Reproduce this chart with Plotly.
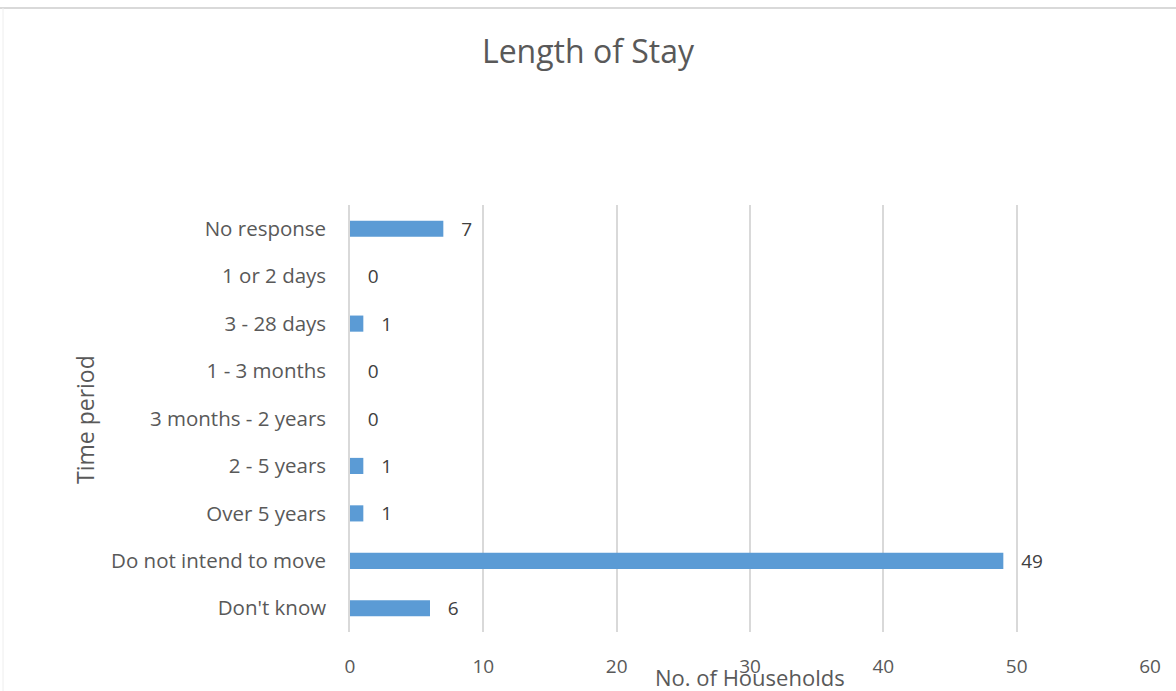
import plotly.graph_objects as go

categories = ["No response", "1 or 2 days", "3 - 28 days", "1 - 3 months",
              "3 months - 2 years", "2 - 5 years", "Over 5 years",
              "Do not intend to move", "Don't know"]
households = [7, 0, 1, 0, 0, 1, 1, 49, 6]
x_ticks = [0, 10, 20, 30, 40, 50, 60]

FONT = "Open Sans"
W, H = 1176, 691
L, R, T, B = 350, 26, 205, 59
PW, PH = W - L - R, H - T - B


def px_x(x):
    return (x - L) / PW


def px_y(y):
    return (H - B - y) / PH


fig = go.Figure()
fig.add_trace(go.Bar(
    x=households, y=categories, orientation="h",
    marker=dict(color="#5B9BD5", line=dict(width=0)),
    text=[str(v) for v in households],
    texttemplate="   %{text}",
    textposition="outside",
    constraintext="none",
    textfont=dict(family=FONT, size=19, color="#404040"),
    cliponaxis=False,
    hoverinfo="skip",
))

fig.update_layout(
    width=W, height=H,
    paper_bgcolor="white", plot_bgcolor="white",
    margin=dict(l=L, r=R, t=T, b=B),
    bargap=0.66,
    showlegend=False,
    title=dict(text="Length of Stay", x=0.5, xanchor="center",
               y=1 - 52 / H, yanchor="middle", yref="container",
               font=dict(family=FONT, size=32, color="#595959")),
    xaxis=dict(range=[0, 60], tickvals=x_ticks, showgrid=True,
               gridcolor="#d9d9d9", gridwidth=1.5, zeroline=False,
               showline=False,
               ticks="outside", ticklen=17, tickcolor="rgba(0,0,0,0)",
               tickfont=dict(family=FONT, size=19, color="#595959")),
    yaxis=dict(categoryorder="array", categoryarray=categories,
               autorange="reversed", showgrid=False, zeroline=False,
               showline=True, linecolor="#d9d9d9", linewidth=1.5,
               ticks="outside", ticklen=18, tickcolor="rgba(0,0,0,0)",
               tickfont=dict(family=FONT, size=20.5, color="#595959")),
    annotations=[
        dict(text="No. of Households", xref="paper", yref="paper",
             x=px_x(750), y=px_y(677), xanchor="center", yanchor="middle",
             showarrow=False,
             font=dict(family=FONT, size=22, color="#595959")),
        dict(text="Time period", xref="paper", yref="paper",
             x=px_x(85), y=px_y(420), xanchor="center", yanchor="middle",
             textangle=-90, showarrow=False,
             font=dict(family=FONT, size=23, color="#595959")),
    ],
    shapes=[
        dict(type="line", xref="paper", yref="paper",
             x0=px_x(0), x1=px_x(W), y0=px_y(8), y1=px_y(8),
             line=dict(color="#d9d9d9", width=2)),
        dict(type="line", xref="paper", yref="paper",
             x0=px_x(3), x1=px_x(3), y0=px_y(8), y1=px_y(H),
             line=dict(color="#eeeeee", width=1)),
    ],
)

fig.write_html("out.html", config={"displayModeBar": False},
               post_script="document.body.style.margin='0';")
